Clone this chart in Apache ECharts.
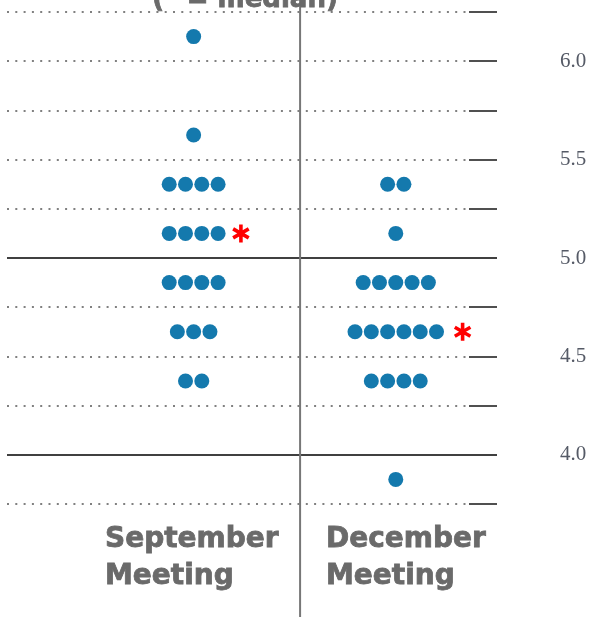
<!DOCTYPE html>
<html><head><meta charset="utf-8">
<script src="https://cdn.jsdelivr.net/npm/echarts@6/dist/echarts.min.js"></script>
<style>html,body{margin:0;padding:0;background:#fff}#c{width:592px;height:617px}</style>
</head><body><div id="c"></div><script>
// ---- data ----
const meetings = ['September\nMeeting', 'December\nMeeting'];
const rateLevels = [6.125, 5.625, 5.375, 5.125, 4.875, 4.625, 4.375, 3.875];
const septemberCounts = [1, 1, 4, 4, 4, 3, 2, 0];
const decemberCounts  = [0, 0, 2, 1, 5, 6, 4, 1];
const medians = [5.125, 4.625];
const yTickLabels = ['4.0', '4.5', '5.0', '5.5', '6.0'];
const solidLevels = [4.0, 5.0];
const titleText = '(* = median)';

// ---- layout (x in dot-width units) ----
const columnCenters = [11.45, 23.85];
const dividerX = 17.98;
const xMax = 30.06;
const starGap = [1.4, 1.6];
const labelLeft = [105, 326];

const countsByMeeting = [septemberCounts, decemberCounts];
const dots = [], stars = [];
countsByMeeting.forEach((counts, m) => {
  rateLevels.forEach((lvl, k) => {
    const n = counts[k];
    for (let i = 0; i < n; i++) dots.push([columnCenters[m] + i - (n - 1) / 2, lvl]);
    if (lvl === medians[m]) stars.push([columnCenters[m] + (n - 1) / 2 + starGap[m], lvl]);
  });
});

function asteriskPath() {
  const L = 1, W = 0.2; let d = '';
  for (const ang of [0, 60, 120]) {
    const r = ang * Math.PI / 180;
    const ux = Math.sin(r), uy = -Math.cos(r), px = -uy, py = ux;
    const pts = [[L*ux+W*px, L*uy+W*py], [L*ux-W*px, L*uy-W*py], [-L*ux-W*px, -L*uy-W*py], [-L*ux+W*px, -L*uy+W*py]];
    d += 'M' + pts.map(p => (p[0]*50+50).toFixed(2) + ' ' + (p[1]*50+50).toFixed(2)).join(' L') + ' Z ';
  }
  return 'path://' + d;
}

const chart = echarts.init(document.getElementById('c'));
chart.setOption({
  animation: false,
  grid: { left: 7, right: 95, top: 12, bottom: 113 },
  xAxis: { type: 'value', min: 0, max: xMax, show: false },
  yAxis: {
    type: 'value', position: 'right', min: 3.75, max: 6.25, interval: 0.25,
    axisLine: { show: false, onZero: false },
    axisTick: { show: true, inside: true, length: 28, lineStyle: { color: '#505050', width: 2 } },
    splitLine: { show: true, lineStyle: { color: '#808080', width: 2, type: [2, 6.3] } },
    axisLabel: {
      margin: 63, color: '#555a66', fontFamily: 'Liberation Serif', fontSize: 21,
      formatter: v => { const s = v.toFixed(1); return (Math.abs(v * 2 - Math.round(v * 2)) < 1e-6 && yTickLabels.includes(s)) ? s : ''; }
    }
  },
  series: [
    {
      type: 'scatter', data: dots, symbolSize: 15, itemStyle: { color: '#1479ad', opacity: 1 }, z: 3,
      markLine: {
        silent: true, symbol: 'none', label: { show: false },
        lineStyle: { color: '#404040', width: 2, type: 'solid', opacity: 1 },
        data: solidLevels.map(v => ({ yAxis: v }))
      }
    },
    {
      type: 'scatter', data: stars, symbol: asteriskPath(), symbolKeepAspect: true, symbolSize: 18,
      itemStyle: { color: '#ff0000', opacity: 1 }, z: 4
    }
  ]
});

const divPx = chart.convertToPixel({ xAxisIndex: 0 }, dividerX);
chart.setOption({
  graphic: [
    { type: 'line', z: 10, shape: { x1: divPx, y1: 0, x2: divPx, y2: 617 }, style: { stroke: '#777', lineWidth: 2 } },
    { type: 'text', z: 10, x: 245, y: 0, style: { text: titleText, font: 'bold 26px "DejaVu Sans"', fill: '#6a6a6a', stroke: '#6a6a6a', lineWidth: 0.8, align: 'center', verticalAlign: 'middle' } },
    ...meetings.map((t, i) => ({
      type: 'text', z: 10, x: labelLeft[i], y: 521,
      style: { text: t, font: 'bold 28px "DejaVu Sans"', fill: '#6a6a6a', stroke: '#6a6a6a', lineWidth: 0.8, align: 'left', verticalAlign: 'top', lineHeight: 37 }
    }))
  ]
});
</script></body></html>
